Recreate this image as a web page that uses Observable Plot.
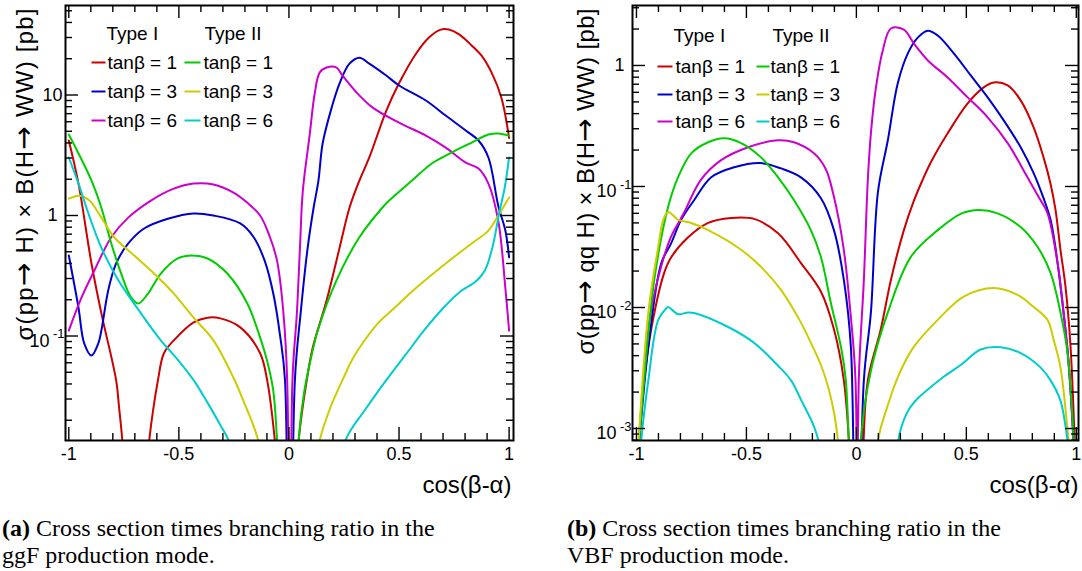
<!DOCTYPE html>
<html><head><meta charset="utf-8">
<script src="https://cdn.jsdelivr.net/npm/d3@7"></script>
<script src="https://cdn.jsdelivr.net/npm/@observablehq/plot@0.6"></script>
<style>
html,body{margin:0;padding:0;background:#fff;}
#root{position:relative;width:1082px;height:571px;overflow:hidden;background:#fff;}
.panel{position:absolute;top:0;}
.cap{position:absolute;font-family:"Liberation Serif","Times New Roman",serif;font-size:20px;line-height:27px;color:#000;white-space:nowrap;}
</style></head><body>
<div id="root">
  <div id="pa" class="panel" style="left:0px;width:540px;height:505px"></div>
  <div id="pb" class="panel" style="left:560px;width:522px;height:505px"></div>
  <div id="capA" class="cap" style="left:2px;top:515px"></div>
  <div id="capB" class="cap" style="left:567px;top:515px"></div>
</div>
<script>
// ---------------- data: ggF (left) ----------------
const ggf_typeI_tanb1 = [[-1.0,4.2],[-0.956,1.84],[-0.897,0.40],[-0.852,0.154],[-0.785,0.043],[-0.772,0.026],[-0.757,0.0137],[-0.74,0.005],[-0.70,0.0002],[-0.655,0.005],[-0.636,0.013],[-0.595,0.043],[-0.568,0.072],[-0.523,0.092],[-0.433,0.13],[-0.370,0.142],[-0.311,0.14],[-0.221,0.118],[-0.131,0.072],[-0.099,0.043],[-0.063,0.013],[-0.03,0.002],[0,0.00001],[0.03,0.003],[0.045,0.014],[0.081,0.043],[0.108,0.08],[0.171,0.197],[0.230,0.54],[0.275,1.16],[0.320,1.95],[0.365,3.03],[0.442,7.4],[0.500,12.5],[0.577,22],[0.636,30],[0.690,34.9],[0.726,34.9],[0.771,32],[0.830,25.8],[0.875,21.2],[0.920,15.4],[0.965,9.5],[1.0,4.4]];
const ggf_typeI_tanb3 = [[-1.0,0.466],[-0.956,0.172],[-0.930,0.087],[-0.897,0.069],[-0.866,0.087],[-0.852,0.111],[-0.821,0.239],[-0.785,0.40],[-0.730,0.586],[-0.658,0.78],[-0.550,0.94],[-0.433,1.04],[-0.343,1.0],[-0.221,0.86],[-0.16,0.66],[-0.11,0.42],[-0.07,0.22],[-0.04,0.10],[-0.018,0.043],[0,0.00001],[0.027,0.043],[0.053,0.154],[0.085,0.54],[0.112,1.16],[0.134,1.95],[0.153,3.96],[0.194,7.86],[0.230,12.5],[0.275,18.2],[0.320,20.4],[0.365,18.2],[0.442,14.5],[0.500,12.0],[0.622,9.0],[0.712,6.75],[0.803,5.08],[0.861,4.19],[0.906,3.03],[0.951,1.2],[0.983,0.75],[1.0,0.45]];
const ggf_typeI_tanb6 = [[-1.0,0.111],[-0.942,0.209],[-0.884,0.35],[-0.807,0.66],[-0.730,0.96],[-0.627,1.33],[-0.523,1.67],[-0.433,1.84],[-0.343,1.81],[-0.252,1.55],[-0.19,1.28],[-0.131,1.0],[-0.086,0.66],[-0.054,0.42],[-0.027,0.17],[-0.008,0.043],[0.004,0.00001],[0.016,0.043],[0.036,0.154],[0.050,0.54],[0.063,1.6],[0.095,4.8],[0.117,10.3],[0.140,15.4],[0.171,16.9],[0.216,16.9],[0.243,14.5],[0.307,10.5],[0.379,7.9],[0.500,5.9],[0.622,4.6],[0.712,3.66],[0.803,2.75],[0.861,2.45],[0.906,1.84],[0.951,0.9],[0.983,0.25],[1.0,0.111]];
const ggf_typeII_tanb1 = [[-1.0,4.7],[-0.897,1.95],[-0.852,1.16],[-0.807,0.586],[-0.762,0.33],[-0.717,0.209],[-0.685,0.186],[-0.640,0.225],[-0.582,0.33],[-0.505,0.44],[-0.446,0.466],[-0.370,0.44],[-0.280,0.33],[-0.189,0.186],[-0.131,0.097],[-0.10,0.063],[-0.072,0.036],[-0.054,0.0137],[-0.03,0.002],[0,0.00001],[0.03,0.002],[0.044,0.0137],[0.07,0.035],[0.098,0.063],[0.131,0.111],[0.216,0.29],[0.320,0.66],[0.424,1.16],[0.455,1.33],[0.559,1.95],[0.649,2.7],[0.739,3.33],[0.830,4.03],[0.906,4.7],[0.951,4.8],[1.0,4.6]];
const ggf_typeII_tanb3 = [[-1.0,1.38],[-0.951,1.46],[-0.906,1.33],[-0.852,0.96],[-0.794,0.66],[-0.703,0.466],[-0.613,0.33],[-0.523,0.225],[-0.433,0.142],[-0.343,0.092],[-0.252,0.045],[-0.207,0.029],[-0.140,0.0137],[-0.08,0.003],[0,0.00001],[0.08,0.003],[0.140,0.0137],[0.19,0.026],[0.243,0.043],[0.29,0.065],[0.34,0.09],[0.40,0.125],[0.47,0.165],[0.577,0.25],[0.712,0.40],[0.830,0.586],[0.906,0.75],[0.951,1.0],[1.0,1.41]];
const ggf_typeII_tanb6 = [[-1.0,3.03],[-0.956,1.84],[-0.911,1.04],[-0.852,0.54],[-0.775,0.29],[-0.672,0.154],[-0.582,0.092],[-0.50,0.062],[-0.433,0.043],[-0.37,0.028],[-0.31,0.018],[-0.275,0.0137],[-0.15,0.002],[0,0.00001],[0.15,0.002],[0.257,0.0137],[0.35,0.025],[0.442,0.043],[0.53,0.07],[0.62,0.115],[0.70,0.17],[0.78,0.235],[0.85,0.285],[0.89,0.35],[0.925,0.55],[0.955,1.05],[0.98,1.7],[1.0,3.03]];

// ---------------- data: VBF (right) ----------------
const vbf_typeI_tanb1 = [[-1.0,0.0004],[-0.965,0.00253],[-0.933,0.0066],[-0.874,0.0193],[-0.842,0.026],[-0.765,0.038],[-0.674,0.050],[-0.570,0.055],[-0.465,0.054],[-0.356,0.041],[-0.252,0.0233],[-0.161,0.0135],[-0.102,0.0066],[-0.057,0.0025],[-0.03,0.0006],[0,0.00001],[0.03,0.0006],[0.052,0.0025],[0.111,0.0066],[0.157,0.0169],[0.216,0.0436],[0.26,0.075],[0.30,0.112],[0.34,0.16],[0.415,0.275],[0.506,0.486],[0.579,0.659],[0.624,0.724],[0.688,0.684],[0.747,0.515],[0.806,0.308],[0.851,0.174],[0.883,0.105],[0.905,0.065],[0.928,0.030],[0.951,0.0148],[0.974,0.0047],[1.0,0.0003]];
const vbf_typeI_tanb3 = [[-1.0,0.0004],[-0.946,0.0047],[-0.887,0.0233],[-0.842,0.034],[-0.797,0.053],[-0.738,0.077],[-0.660,0.119],[-0.556,0.144],[-0.434,0.156],[-0.343,0.141],[-0.252,0.119],[-0.161,0.08],[-0.102,0.0436],[-0.057,0.0169],[-0.025,0.0047],[0,0.00001],[0.034,0.0025],[0.066,0.0091],[0.098,0.09],[0.143,0.241],[0.188,0.711],[0.234,1.26],[0.279,1.70],[0.325,1.94],[0.370,1.77],[0.443,1.26],[0.520,0.827],[0.597,0.545],[0.670,0.352],[0.747,0.211],[0.806,0.129],[0.851,0.080],[0.883,0.053],[0.915,0.0233],[0.942,0.0091],[0.965,0.0035],[1.0,0.0003]];
const vbf_typeI_tanb6 = [[-1.0,0.0004],[-0.935,0.0091],[-0.887,0.022],[-0.844,0.038],[-0.785,0.060],[-0.708,0.113],[-0.615,0.165],[-0.492,0.211],[-0.356,0.241],[-0.284,0.232],[-0.193,0.188],[-0.14,0.14],[-0.104,0.085],[-0.059,0.0316],[-0.027,0.0091],[-0.004,0.0025],[0.003,0.00001],[0.011,0.0025],[0.034,0.0169],[0.052,0.113],[0.066,0.275],[0.089,0.659],[0.120,1.33],[0.157,2.02],[0.216,1.98],[0.261,1.52],[0.325,1.10],[0.415,0.796],[0.506,0.545],[0.597,0.373],[0.688,0.228],[0.778,0.119],[0.837,0.0772],[0.869,0.0603],[0.915,0.0233],[0.942,0.0091],[0.965,0.0035],[1.0,0.0003]];
const vbf_typeII_tanb1 = [[-1.0,0.0004],[-0.965,0.00253],[-0.919,0.0169],[-0.856,0.068],[-0.810,0.12],[-0.751,0.188],[-0.674,0.232],[-0.601,0.250],[-0.524,0.228],[-0.434,0.174],[-0.356,0.119],[-0.284,0.0772],[-0.207,0.0436],[-0.161,0.026],[-0.116,0.0109],[-0.070,0.0047],[-0.048,0.0025],[0,0.00001],[0.02,0.0008],[0.066,0.003],[0.143,0.0091],[0.247,0.0261],[0.370,0.0436],[0.479,0.060],[0.556,0.064],[0.642,0.060],[0.747,0.0462],[0.824,0.0316],[0.883,0.0193],[0.928,0.0091],[0.960,0.0042],[1.0,0.0003]];
const vbf_typeII_tanb3 = [[-1.0,0.0004],[-0.946,0.0091],[-0.901,0.0316],[-0.878,0.053],[-0.856,0.0615],[-0.810,0.053],[-0.765,0.0508],[-0.674,0.0436],[-0.524,0.030],[-0.434,0.0217],[-0.343,0.014],[-0.252,0.0075],[-0.2,0.0048],[-0.16,0.0033],[-0.125,0.0021],[-0.1,0.0013],[-0.084,0.0008],[0,0.00001],[0.098,0.0008],[0.14,0.0015],[0.19,0.0027],[0.26,0.0047],[0.370,0.0079],[0.488,0.0123],[0.624,0.0145],[0.733,0.0127],[0.806,0.0101],[0.869,0.0079],[0.897,0.0054],[0.928,0.0032],[0.965,0.0008],[1.0,0.0002]];
const vbf_typeII_tanb6 = [[-1.0,0.0002],[-0.978,0.0008],[-0.946,0.0025],[-0.901,0.0079],[-0.865,0.0098],[-0.856,0.0101],[-0.830,0.0093],[-0.810,0.0088],[-0.765,0.0091],[-0.738,0.0090],[-0.583,0.0069],[-0.465,0.0051],[-0.356,0.0033],[-0.297,0.0025],[-0.25,0.0017],[-0.193,0.00104],[-0.165,0.0007],[0,0.00001],[0.19,0.0008],[0.21,0.0011],[0.24,0.00145],[0.28,0.00178],[0.325,0.0021],[0.40,0.0027],[0.479,0.0034],[0.565,0.0045],[0.656,0.0047],[0.747,0.0042],[0.837,0.0032],[0.883,0.0025],[0.928,0.0017],[0.960,0.0008],[1.0,0.0002]];

// ---------------- labels ----------------
const legendTypes = ["Type I", "Type II"];
const legendRows = ["tanβ = 1", "tanβ = 3", "tanβ = 6"];
const xTickValues = [-1, -0.5, 0, 0.5, 1];
const xTickLabels = ["-1", "-0.5", "0", "0.5", "1"];
const ggfYTickValues = [10, 1, 0.1];
const ggfYTickBase = ["10", "1", "10"];
const ggfYTickExp = ["", "", "-1"];
const vbfYTickValues = [1, 0.1, 0.01, 0.001];
const vbfYTickBase = ["1", "10", "10", "10"];
const vbfYTickExp = ["", "-1", "-2", "-3"];
const xTitle = "cos(β-α)";
const ggfYTitle = "σ(pp→ H) × B(H→ WW) [pb]";
const vbfYTitle = "σ(pp→ qq H) × B(H→ WW) [pb]";
const captionA = ["(a)", " Cross section times branching ratio in the", "ggF production mode."];
const captionB = ["(b)", " Cross section times branching ratio in the", "VBF production mode."];

const colorsTypeI = ["#cc0000", "#0000cc", "#cc00cc"];
const colorsTypeII = ["#00cc00", "#cccc00", "#00cccc"];
const FONT = "'Liberation Sans', Arial, Helvetica, sans-serif";
const SVGNS = "http://www.w3.org/2000/svg";

function logTicks(lo, hi) {
  const major = [], minor = [];
  for (let e = Math.floor(Math.log10(lo)); e <= Math.ceil(Math.log10(hi)); e++) {
    for (let k = 1; k <= 9; k++) {
      const v = k * Math.pow(10, e);
      if (v < lo * 0.9999 || v > hi * 1.0001) continue;
      (k === 1 ? major : minor).push(v);
    }
  }
  return {major, minor};
}

function styleTitle(t, len) {
  const parts = t.textContent.split("→");
  t.textContent = "";
  parts.forEach((p, i) => {
    if (i > 0) {
      const a = document.createElementNS(SVGNS, "tspan");
      a.setAttribute("font-family", "DejaVu Sans");
      a.setAttribute("font-size", "28");
      a.textContent = "→";
      t.appendChild(a);
    }
    const s = document.createElementNS(SVGNS, "tspan");
    s.textContent = p;
    t.appendChild(s);
  });
  t.setAttribute("textLength", len);
  t.setAttribute("lengthAdjust", "spacing");
}

function makePanel(cfg) {
  const {width, height, mL, mR, mT, mB, xDomain, yDomain, curves, yVals, yBase, yExp, legend, yTitle, yTitleDx} = cfg;
  const fw = width - mL - mR, fh = height - mT - mB;
  const sx = d3.scaleLinear(xDomain, [mL, width - mR]);
  const sy = d3.scaleLog(yDomain, [height - mB, mT]);
  const marks = [];
  for (const c of curves) {
    marks.push(Plot.line(c.data, {x: d => d[0], y: d => d[1], stroke: c.color, strokeWidth: 2, clip: true, curve: "catmull-rom"}));
  }
  const xMinor = d3.range(-10, 11).map(i => i / 10).filter(v => Math.abs(v * 2 - Math.round(v * 2)) > 1e-6);
  const T = {stroke: "black", strokeWidth: 1.4};
  marks.push(Plot.ruleX(xMinor, {x: d => d, insetTop: fh - 7, ...T}));
  marks.push(Plot.ruleX(xTickValues, {x: d => d, insetTop: fh - 13, ...T}));
  marks.push(Plot.ruleX(xMinor, {x: d => d, insetBottom: fh - 7, ...T}));
  marks.push(Plot.ruleX(xTickValues, {x: d => d, insetBottom: fh - 13, ...T}));
  const yt = logTicks(yDomain[0], yDomain[1]);
  marks.push(Plot.ruleY(yt.minor, {y: d => d, insetRight: fw - 7, ...T}));
  marks.push(Plot.ruleY(yt.major, {y: d => d, insetRight: fw - 13, ...T}));
  marks.push(Plot.ruleY(yt.minor, {y: d => d, insetLeft: fw - 7, ...T}));
  marks.push(Plot.ruleY(yt.major, {y: d => d, insetLeft: fw - 13, ...T}));
  marks.push(Plot.text(xTickValues, {x: d => d, text: (d, i) => xTickLabels[i], frameAnchor: "bottom", lineAnchor: "top", dy: 7, fontSize: 18}));
  yVals.forEach((v, i) => {
    if (yExp[i] === "") {
      marks.push(Plot.text([v], {y: d => d, text: [yBase[i]], frameAnchor: "left", textAnchor: "end", lineAnchor: "middle", dx: yBase[i] === "1" ? -8 : -3, fontSize: 18}));
    } else {
      marks.push(Plot.text([v], {y: d => d, text: [yBase[i]], frameAnchor: "left", textAnchor: "end", lineAnchor: "middle", dx: -16, dy: 5, fontSize: 18}));
      marks.push(Plot.text([v], {y: d => d, text: [yExp[i]], frameAnchor: "left", textAnchor: "end", lineAnchor: "middle", dx: -1, dy: -2, fontSize: 13}));
    }
  });
  legendTypes.forEach((t, c) => {
    marks.push(Plot.text([t], {x: [sx.invert(legend.titleX[c])], y: [sy.invert(legend.titleY)], text: d => d, textAnchor: "start", lineAnchor: "middle", fontSize: 19}));
    legendRows.forEach((r, k) => {
      const col = (c === 0 ? colorsTypeI : colorsTypeII)[k];
      const yv = sy.invert(legend.rowY[k]);
      marks.push(Plot.link([0], {x1: [sx.invert(legend.lineX[c][0])], x2: [sx.invert(legend.lineX[c][1])], y1: [yv], y2: [yv], stroke: col, strokeWidth: 2}));
      marks.push(Plot.text([r], {x: [sx.invert(legend.textX[c])], y: [yv], text: d => d, textAnchor: "start", lineAnchor: "middle", fontSize: 19}));
    });
  });
  marks.push(Plot.text([xTitle], {text: d => d, frameAnchor: "bottom-right", textAnchor: "end", lineAnchor: "bottom", dx: cfg.xTitleDx, dy: 52, fontSize: 24}));
  marks.push(Plot.text([yTitle], {text: d => d, frameAnchor: "top-left", rotate: -90, textAnchor: "end", lineAnchor: "bottom", dx: yTitleDx, dy: 3, fontSize: 24}));
  marks.push(Plot.frame({stroke: "black", strokeWidth: 2}));
  const svg = Plot.plot({
    width, height, marginLeft: mL, marginRight: mR, marginTop: mT, marginBottom: mB,
    x: {domain: xDomain, axis: null},
    y: {type: "log", domain: yDomain, axis: null},
    style: {fontFamily: FONT, background: "transparent", overflow: "visible", color: "black"},
    marks
  });
  svg.querySelectorAll("text").forEach(t => {
    if (t.textContent === yTitle) styleTitle(t, cfg.yTitleLen);
  });
  return svg;
}

const svgA = makePanel({
  width: 540, height: 505, mL: 65, mR: 27, mT: 5, mB: 65,
  xDomain: [-1.015, 1.02], yDomain: [0.01358, 55.3],
  curves: [
    {data: ggf_typeI_tanb1, color: colorsTypeI[0]}, {data: ggf_typeI_tanb3, color: colorsTypeI[1]}, {data: ggf_typeI_tanb6, color: colorsTypeI[2]},
    {data: ggf_typeII_tanb1, color: colorsTypeII[0]}, {data: ggf_typeII_tanb3, color: colorsTypeII[1]}, {data: ggf_typeII_tanb6, color: colorsTypeII[2]}
  ],
  yVals: ggfYTickValues, yBase: ggfYTickBase, yExp: ggfYTickExp,
  legend: {titleX: [106, 204], titleY: 33, rowY: [62, 91, 120], lineX: [[91, 105], [184, 200]], textX: [107, 203]},
  yTitle: ggfYTitle, yTitleDx: -33, yTitleLen: 332, xTitleDx: -2
});
document.getElementById("pa").appendChild(svgA);

const svgB = makePanel({
  width: 522, height: 505, mL: 72, mR: 4, mT: 5, mB: 65,
  xDomain: [-1.018, 1.01], yDomain: [0.000796, 3.13],
  curves: [
    {data: vbf_typeI_tanb1, color: colorsTypeI[0]}, {data: vbf_typeI_tanb3, color: colorsTypeI[1]}, {data: vbf_typeI_tanb6, color: colorsTypeI[2]},
    {data: vbf_typeII_tanb1, color: colorsTypeII[0]}, {data: vbf_typeII_tanb3, color: colorsTypeII[1]}, {data: vbf_typeII_tanb6, color: colorsTypeII[2]}
  ],
  yVals: vbfYTickValues, yBase: vbfYTickBase, yExp: vbfYTickExp,
  legend: {titleX: [113, 212], titleY: 35, rowY: [66, 94, 121], lineX: [[97, 112], [196, 209]], textX: [115, 210]},
  yTitle: vbfYTitle, yTitleDx: -39, yTitleLen: 346, xTitleDx: 0
});
document.getElementById("pb").appendChild(svgB);

function buildCaption(el, parts, target) {
  const l1 = document.createElement("div");
  const s = document.createElement("span");
  const b = document.createElement("b"); b.textContent = parts[0];
  s.appendChild(b); s.appendChild(document.createTextNode(parts[1]));
  l1.appendChild(s);
  const l2 = document.createElement("div"); l2.textContent = parts[2];
  el.appendChild(l1); el.appendChild(l2);
  const w = s.getBoundingClientRect().width;
  let fs = 20 * target / w; fs = Math.max(17, Math.min(24, fs));
  el.style.fontSize = fs + "px";
}
buildCaption(document.getElementById("capA"), captionA, 444);
buildCaption(document.getElementById("capB"), captionB, 448);
</script>
</body></html>
